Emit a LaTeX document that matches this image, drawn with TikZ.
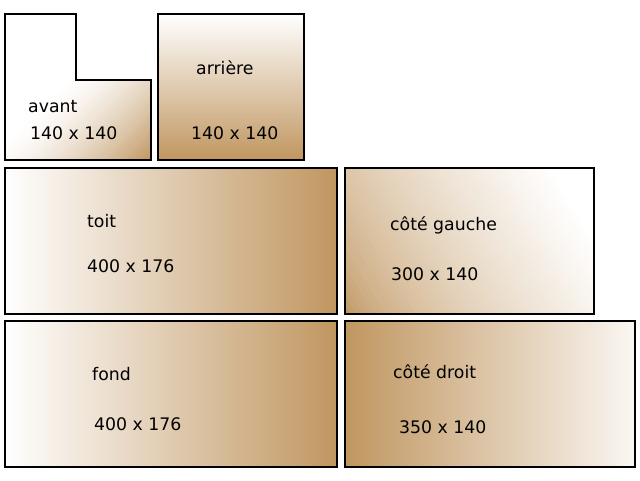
\documentclass[tikz,border=0pt]{standalone}
\usepackage{fontspec}
\setmainfont{DejaVu Sans}
\usetikzlibrary{calc}
\definecolor{wood}{RGB}{192,150,96}
\tikzset{
  panel/.style={draw=black, line width=2pt, line join=miter},
  lbl/.style={anchor=base west, inner sep=0pt, font=\fontsize{17.3}{20}\selectfont}
}
% bands: #1 origin, #2 angle (y-down), #3 ramp start, #4 ramp end, #5 start colour, #6 end colour, #7 exponent
\newcommand{\rampfill}[7]{%
  \fill[#5] ($(#1)+(#2+90:600)$) -- ($(#1)+(#2-90:600)$) -- ($(#1)+(#2:600)+(#2-90:600)$) -- ($(#1)+(#2:600)+(#2+90:600)$) -- cycle;
  \foreach \i in {1,...,50} {
    \pgfmathsetmacro\rs{#3+(#4-#3)*\i/50}
    \pgfmathsetmacro\rc{100*(\i/50)^#7}
    \fill[#6!\rc!#5] ($(#1)+(#2:\rs)+(#2+90:600)$) -- ($(#1)+(#2:\rs)+(#2-90:600)$) -- ($(#1)+(#2:600)+(#2-90:600)$) -- ($(#1)+(#2:600)+(#2+90:600)$) -- cycle;
  }%
}
\begin{document}
\begin{tikzpicture}[x=1pt,y=-1pt]
\useasboundingbox (0,0) rectangle (640,480);
% avant (L-shape), diagonal shading
\coordinate (avO) at (5,14);
\begin{scope}
  \clip (5,14) -- (76,14) -- (76,80) -- (151,80) -- (151,160) -- (5,160) -- cycle;
  \rampfill{avO}{45}{88}{206}{white}{wood}{1.5}
\end{scope}
\path[panel] (5,14) -- (76,14) -- (76,80) -- (151,80) -- (151,160) -- (5,160) -- cycle;
% arriere
\path[panel, top color=white, bottom color=wood] (158,14) rectangle (304,160);
% toit
\path[panel, left color=white, right color=wood] (5,168) rectangle (337,314);
% cote gauche, diagonal shading
\coordinate (cgO) at (345,314);
\begin{scope}
  \clip (345,168) rectangle (594,314);
  \rampfill{cgO}{-32}{0}{250}{wood}{white}{0.65}
\end{scope}
\path[panel] (345,168) rectangle (594,314);
% fond
\path[panel, left color=white, right color=wood] (5,321) rectangle (337,467);
% cote droit
\path[panel, left color=wood, right color=white!92!wood] (345,321) rectangle (635,467);
% labels
\node[lbl] (avant) at (28,112) {avant};
\node[lbl] (avantd) at (30,139) {140 x 140};
\node[lbl] (arriere) at (196,74) {arrière};
\node[lbl] (arriered) at (191,139) {140 x 140};
\node[lbl] (toit) at (87,227) {toit};
\node[lbl] (toitd) at (87,272) {400 x 176};
\node[lbl] (gauche) at (390,230) {côté gauche};
\node[lbl] (gauched) at (391,280) {300 x 140};
\node[lbl] (fond) at (92,380) {fond};
\node[lbl] (fondd) at (94,430) {400 x 176};
\node[lbl] (droit) at (393,378) {côté droit};
\node[lbl] (droitd) at (399,433) {350 x 140};
\end{tikzpicture}
\end{document}
